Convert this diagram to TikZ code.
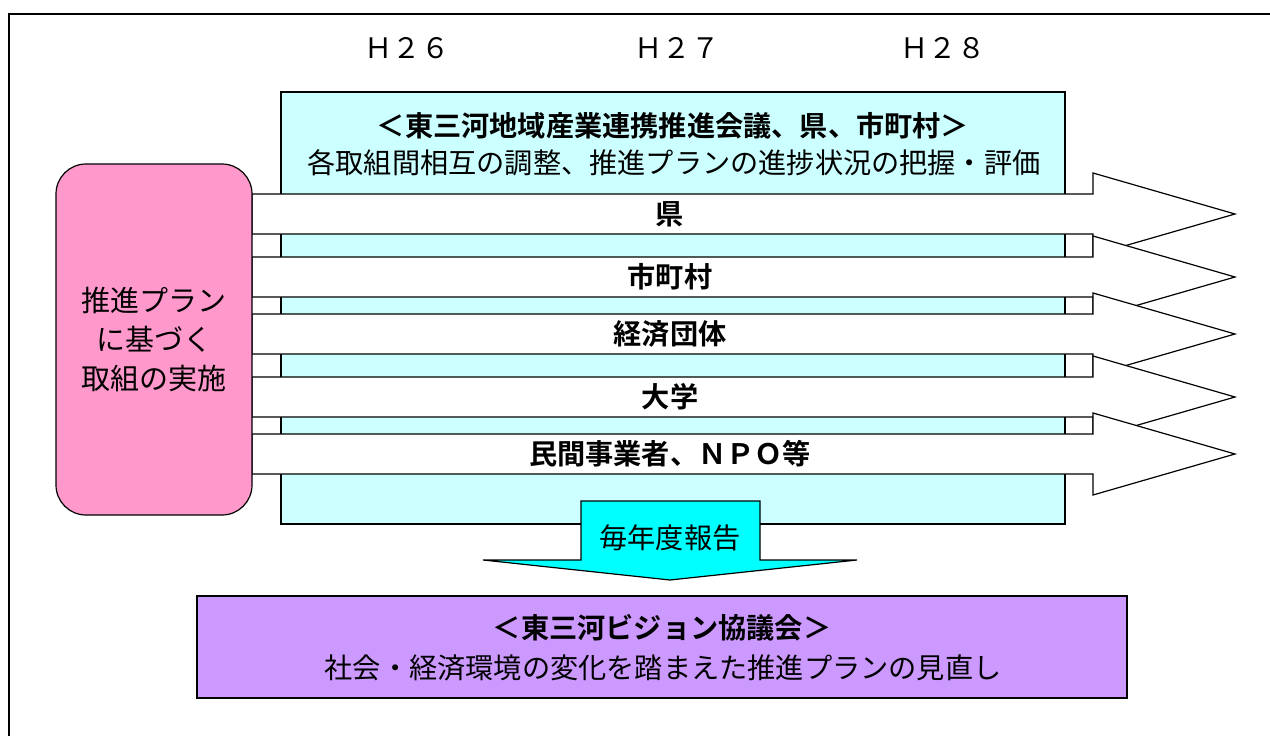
\documentclass[tikz,border=0pt]{standalone}
\usepackage{fontspec}
\newfontfamily\jpfont{Noto Sans CJK JP}[BoldFont={Noto Sans CJK JP Bold}]
\newcommand\planfont{\jpfont\fontsize{28.2}{39}\selectfont}
\usetikzlibrary{positioning}
\definecolor{boxcyan}{HTML}{CCFFFF}
\definecolor{boxpink}{HTML}{FF99CC}
\definecolor{boxviolet}{HTML}{CC99FF}
\definecolor{reportcyan}{HTML}{00FFFF}
\tikzset{
  outline/.style = {draw, line width=1.2pt, line join=miter},
  flow arrow/.style = {outline, fill=white},
  plain text/.style = {font=\planfont, inner sep=0pt},
  arrow text/.style = {font=\planfont\bfseries, inner sep=0pt},
}

\begin{document}
\begin{tikzpicture}[x=1pt, y=-1pt, font=\planfont]
    \useasboundingbox (0,0) rectangle (1270,736);
    % outer frame
    \draw[line width=1.2pt] (1280,14) -- (9,14) -- (9,746);
    % years
    \node[plain text] (h26) at (407,48) {Ｈ２６};
    \node[plain text] (h27) at (677,48) {Ｈ２７};
    \node[plain text] (h28) at (943,48) {Ｈ２８};
    % council box
    \node[outline, fill=boxcyan, minimum width=784pt, minimum height=432pt, inner sep=0pt] (council) at (673,308) {};
    \node[arrow text] (council title) at (673,126) {＜東三河地域産業連携推進会議、県、市町村＞};
    \node[plain text] (council task) at (674,163) {各取組間相互の調整、推進プランの進捗状況の把握・評価};
    % actors
    \foreach \c/\lbl [count=\i] in {214/県, 277/市町村, 334/経済団体, 397/大学, 454/{民間事業者、ＮＰＯ等}} {
        \draw[flow arrow] (252,\c-20) -- (1093,\c-20) -- (1093,\c-41) -- (1235,\c)
            -- (1093,\c+41) -- (1093,\c+20) -- (252,\c+20) -- cycle;
        \node[arrow text] (actor\i) at (670,\c) {\lbl};
    }
    % implementation
    \node[outline, fill=boxpink, rounded corners=30pt, minimum width=196pt, minimum height=351pt,
          align=center, inner sep=0pt, font=\jpfont\fontsize{29}{39}\selectfont] (impl) at (154,339.5) {推進プラン\\に基づく\\取組の実施};
    % yearly report
    \draw[outline, fill=reportcyan] (581,501) -- (760,501) -- (760,560) -- (857,560)
        -- (670,580) -- (483,560) -- (581,560) -- cycle;
    \node[plain text] (report) at (670,538) {毎年度報告};
    % vision council
    \node[outline, fill=boxviolet, minimum width=930pt, minimum height=102pt, inner sep=0pt] (vision) at (662,647) {};
    \node[arrow text] (vision title) at (662,628) {＜東三河ビジョン協議会＞};
    \node[plain text] (vision task) at (663,668) {社会・経済環境の変化を踏まえた推進プランの見直し};
\end{tikzpicture}
\end{document}
